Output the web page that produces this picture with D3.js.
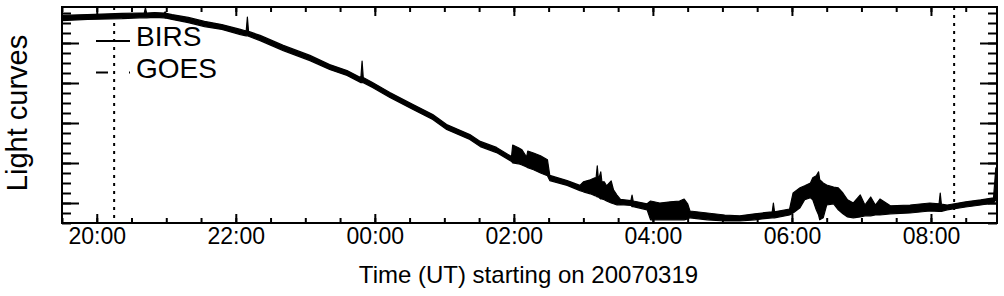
<!DOCTYPE html>
<html>
<head>
<meta charset="utf-8">
<script src="https://cdn.jsdelivr.net/npm/d3@7"></script>
<style>
  body { margin: 0; background: #fff; }
  svg { display: block; }
  text { font-family: "Liberation Sans", Arial, Helvetica, sans-serif; fill: #000; }
</style>
</head>
<body>
<script>
// light curve envelope (time UT, upper / lower value)
var times = ["19:30","19:52","20:22","20:37","20:41","20:42","20:43","20:50","20:58","20:59","21:00","21:05",
  "21:19","21:33","21:48","22:04","22:09","22:10","22:11","22:21","22:41","23:04","23:21","23:36","23:46",
  "23:48","23:49","23:50","23:58","00:13","00:33","00:50","01:02","01:22","01:31","01:45","01:58",
  "01:59","02:04","02:07","02:11","02:12","02:17","02:23","02:29","02:31","02:46","02:57",
  "03:00","03:06","03:10","03:11","03:12","03:13","03:15","03:16","03:18","03:20","03:24","03:26","03:29",
  "03:32","03:41","03:42","03:43","03:55","03:58","04:06","04:15","04:23","04:27","04:30","04:32",
  "04:47","05:02","05:15","05:28","05:43","05:44","05:45","05:58","06:01","06:07","06:11","06:16",
  "06:18","06:21","06:23","06:24","06:27","06:30","06:36","06:40","06:44","06:48","06:53","06:59",
  "07:03","07:08","07:12","07:16","07:25","07:42","07:59","08:07","08:08","08:09","08:14","08:30",
  "08:43","08:54","08:56","08:57"];
var upper = [5.19,5.21,5.24,5.25,5.25,5.38,5.25,5.26,5.25,5.28,5.24,5.21,
  5.14,5.04,4.96,4.84,4.80,5.15,4.79,4.69,4.44,4.19,3.96,3.81,3.66,
  3.64,4.05,3.64,3.51,3.26,2.96,2.71,2.46,2.21,2.04,1.89,1.66,
  1.95,1.88,1.83,1.65,1.80,1.75,1.68,1.58,1.19,1.06,0.94,
  1.03,1.08,1.13,1.13,1.43,1.08,1.28,1.03,1.03,0.93,1.05,0.83,0.70,
  0.59,0.56,0.70,0.55,0.48,0.55,0.50,0.53,0.55,0.60,0.48,0.30,
  0.25,0.20,0.18,0.23,0.28,0.50,0.28,0.35,0.75,0.88,0.93,1.00,
  1.13,1.18,1.28,1.08,1.00,0.95,0.90,0.88,0.75,0.58,0.50,0.70,
  0.45,0.65,0.45,0.60,0.43,0.45,0.50,0.48,0.75,0.47,0.45,0.53,
  0.58,0.63,1.38,0.95];
var lower = [5.06,5.09,5.11,5.13,5.13,5.13,5.13,5.14,5.13,5.12,5.12,5.09,
  5.01,4.91,4.84,4.71,4.68,4.68,4.67,4.56,4.31,4.06,3.84,3.69,3.54,
  3.51,3.51,3.51,3.39,3.14,2.84,2.59,2.34,2.09,1.91,1.76,1.54,
  1.50,1.48,1.45,1.40,1.38,1.33,1.25,1.18,1.06,0.94,0.81,
  0.78,0.73,0.68,0.68,0.65,0.65,0.60,0.60,0.58,0.55,0.50,0.48,0.45,
  0.46,0.44,0.41,0.41,0.33,0.08,0.08,0.08,0.08,0.08,0.10,0.13,
  0.08,0.05,0.05,0.08,0.13,0.13,0.13,0.20,0.25,0.38,0.58,0.63,
  0.58,0.33,0.20,0.08,0.13,0.45,0.48,0.33,0.23,0.15,0.13,0.15,
  0.18,0.18,0.20,0.20,0.23,0.25,0.30,0.29,0.29,0.29,0.33,0.40,
  0.45,0.50,0.58,0.58];

var timeRange = ["19:30", "08:57"];
var markerTimes = ["20:15", "08:20"];      // dotted verticals
var majorTicksX = ["20:00","22:00","00:00","02:00","04:00","06:00","08:00"];
var yDomain = [0, 5.4];
var majorTicksY = [0.5, 1.5, 2.5, 3.5, 4.5];
var legendNames = ["BIRS", "GOES"];
var xTitle = "Time (UT) starting on 20070319";
var yTitle = "Light curves";

function toDate(s) {
  var p = s.split(":"), h = +p[0], m = +p[1];
  return new Date(Date.UTC(2007, 2, h >= 12 ? 19 : 20, h, m));
}

var W = 1004, H = 296;
var margin = {top: 7, right: 7, bottom: 73, left: 62},
    width = W - margin.left - margin.right,
    height = H - margin.top - margin.bottom;

var svg = d3.select("body").append("svg")
    .attr("width", W).attr("height", H);
svg.append("rect").attr("width", W).attr("height", H).attr("fill", "#fff");

var g = svg.append("g")
    .attr("transform", "translate(" + margin.left + "," + margin.top + ")");

var x = d3.scaleUtc().domain(timeRange.map(toDate)).range([0, width]);
var y = d3.scaleLinear().domain(yDomain).range([height, 0]);

var minorX = d3.utcMinute.every(30).range(x.domain()[0], d3.utcMinute.offset(x.domain()[1], 1));
var minorY = d3.range(0, 5.3, 0.25);

var data = times.map(function(t, i) { return {t: toDate(t), hi: upper[i], lo: lower[i]}; });

// curve
var area = d3.area()
    .x(function(d) { return x(d.t); })
    .y0(function(d) { return y(d.lo); })
    .y1(function(d) { return y(d.hi); });

g.append("path")
    .datum(data)
    .attr("d", area)
    .attr("fill", "#000")
    .attr("stroke", "#000")
    .attr("stroke-width", 1.2)
    .attr("stroke-linejoin", "round");

// dotted verticals
g.selectAll(".marker")
    .data(markerTimes)
  .enter().append("line")
    .attr("class", "marker")
    .attr("x1", function(d) { return x(toDate(d)); })
    .attr("x2", function(d) { return x(toDate(d)); })
    .attr("y1", 0).attr("y2", height)
    .attr("stroke", "#000")
    .attr("stroke-width", 2)
    .attr("stroke-dasharray", "3,5");

// axes (ticks point inward on all four sides)
function styleAxis(sel) {
  sel.select(".domain").remove();
  sel.selectAll(".tick line").attr("stroke", "#000").attr("stroke-width", 2);
}

g.append("g").attr("transform", "translate(0," + height + ")")
    .call(d3.axisBottom(x).tickValues(minorX).tickSize(-5).tickFormat(""))
    .call(styleAxis);
g.append("g").attr("transform", "translate(0," + height + ")")
    .call(d3.axisBottom(x).tickValues(majorTicksX.map(toDate)).tickSize(-9).tickPadding(5)
      .tickFormat(d3.utcFormat("%H:%M")))
    .call(styleAxis)
    .selectAll("text").attr("font-size", 23).attr("font-family", "Liberation Sans, Arial, sans-serif");

g.append("g")
    .call(d3.axisTop(x).tickValues(minorX).tickSize(-5).tickFormat(""))
    .call(styleAxis);
g.append("g")
    .call(d3.axisTop(x).tickValues(majorTicksX.map(toDate)).tickSize(-9).tickFormat(""))
    .call(styleAxis);

g.append("g")
    .call(d3.axisLeft(y).tickValues(minorY).tickSize(-9).tickFormat(""))
    .call(styleAxis);
g.append("g")
    .call(d3.axisLeft(y).tickValues(majorTicksY).tickSize(-17).tickFormat(""))
    .call(styleAxis);
g.append("g").attr("transform", "translate(" + width + ",0)")
    .call(d3.axisRight(y).tickValues(minorY).tickSize(-9).tickFormat(""))
    .call(styleAxis);
g.append("g").attr("transform", "translate(" + width + ",0)")
    .call(d3.axisRight(y).tickValues(majorTicksY).tickSize(-17).tickFormat(""))
    .call(styleAxis);

// frame
g.append("rect")
    .attr("width", width).attr("height", height)
    .attr("fill", "none").attr("stroke", "#000").attr("stroke-width", 2);

// legend
var legend = g.selectAll(".legend")
    .data(legendNames)
  .enter().append("g")
    .attr("class", "legend")
    .attr("transform", function(d, i) { return "translate(0," + (i * 31.5) + ")"; });

legend.append("line")
    .attr("x1", 34).attr("x2", 68)
    .attr("y1", 34).attr("y2", 34)
    .attr("stroke", "#000").attr("stroke-width", 2)
    .attr("stroke-dasharray", function(d, i) { return i ? "12,21,2,10" : null; });

legend.append("text")
    .attr("x", 74).attr("y", 39)
    .attr("font-size", 28)
    .text(function(d) { return d; });

// titles
svg.append("text")
    .attr("x", margin.left + width / 2 - 1).attr("y", 283)
    .attr("text-anchor", "middle")
    .attr("font-size", 24)
    .text(xTitle);

svg.append("text")
    .attr("transform", "translate(27," + (margin.top + height / 2 - 2) + ") rotate(-90)")
    .attr("text-anchor", "middle")
    .attr("font-size", 29)
    .text(yTitle);
</script>
</body>
</html>
